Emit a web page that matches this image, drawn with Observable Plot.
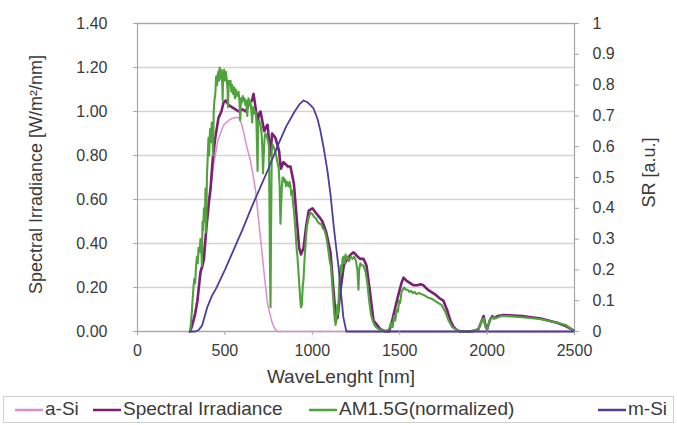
<!DOCTYPE html>
<html>
<head>
<meta charset="utf-8">
<script src="https://cdn.jsdelivr.net/npm/d3@7"></script>
<script src="https://cdn.jsdelivr.net/npm/@observablehq/plot@0.6"></script>
<style>
  html, body { margin: 0; padding: 0; background: #fff; }
  body { width: 677px; height: 425px; overflow: hidden; font-family: "Liberation Sans", Arial, sans-serif; }
  #legend { position: relative; width: 669px; height: 25px; margin-left: 3px; border: 1px solid #cfcfcf; font-size: 19px; color: #3a3a3a; }
  #legend .item { position: absolute; top: 1px; display: flex; align-items: center; white-space: nowrap; }
  #legend svg { margin-right: 2px; }
</style>
</head>
<body>
<div id="chart"></div>
<div id="legend"></div>
<script>
// ---- Data ----
const xTicks = [0, 500, 1000, 1500, 2000, 2500];
const yTicks = [0, 0.2, 0.4, 0.6, 0.8, 1.0, 1.2, 1.4];
const srTicks = [0, 0.1, 0.2, 0.3, 0.4, 0.5, 0.6, 0.7, 0.8, 0.9, 1];
const srLabels = ["0", "0.1", "0.2", "0.3", "0.4", "0.5", "0.6", "0.7", "0.8", "0.9", "1"];
const seriesNames = ["a-Si", "Spectral Irradiance", "AM1.5G(normalized)", "m-Si"];
const seriesColors = ["#dc8fcb", "#7c1f74", "#4fa23c", "#4b3f9c"];

// Spectral Irradiance [W/m2/nm]
const siWl = [300,310,330,343,360,372,380,395,410,418,430,445,463,480,492,505,520,540,560,580,600,620,640,655,664,675,687,695,704,718,725,735,744,760,770,789,810,820,835,860,875,895,910,925,935,950,965,980,1001,1020,1040,1058,1080,1104,1120,1135,1144,1160,1180,1200,1220,1236,1260,1275,1293,1310,1330,1350,1370,1390,1420,1440,1460,1490,1510,1522,1540,1560,1580,1600,1620,1636,1660,1700,1730,1750,1770,1790,1808,1830,1850,1900,1930,1950,1965,1980,1990,2000,2015,2030,2040,2060,2094,2150,2200,2250,2300,2350,2400,2450,2494];
const siVal = [0,0.02,0.08,0.14,0.27,0.30,0.33,0.48,0.60,0.65,0.78,0.88,0.97,1.00,1.04,1.05,1.03,1.02,1.01,1.00,1.01,1.00,1.04,1.05,1.08,1.02,0.95,0.99,1.00,0.94,0.91,0.93,0.94,0.80,0.90,0.88,0.82,0.74,0.77,0.75,0.75,0.67,0.52,0.38,0.35,0.38,0.48,0.55,0.56,0.54,0.52,0.50,0.45,0.36,0.20,0.06,0.06,0.18,0.30,0.33,0.35,0.36,0.34,0.33,0.33,0.30,0.18,0.05,0.03,0.01,0.00,0.00,0.06,0.16,0.22,0.245,0.23,0.22,0.21,0.21,0.215,0.21,0.19,0.17,0.15,0.14,0.10,0.05,0.02,0.005,0,0,0.005,0.01,0.04,0.07,0.03,0.01,0.05,0.07,0.06,0.07,0.075,0.073,0.07,0.065,0.06,0.05,0.04,0.025,0.005];

// AM1.5G (normalized)
const amWl = [300,305,310,315,320,325,330,335,340,345,349,355,360,365,368,372,376,380,385,389,393,397,402,406,410,415,420,425,429,432,436,440,445,450,455,458,462,466,470,475,480,485,487,490,495,500,505,510,515,518,522,527,532,537,542,547,552,557,562,567,572,578,583,588,592,597,602,607,612,617,622,628,632,635,640,645,650,656,660,665,670,675,680,687,690,695,700,705,710,715,718,722,727,732,737,742,748,752,758,761,764,768,773,778,783,788,793,798,803,808,813,818,822,826,830,835,840,845,850,855,860,865,870,875,880,885,890,895,900,905,910,915,920,925,930,935,940,945,950,955,960,965,970,975,980,990,1000,1010,1020,1030,1040,1050,1060,1070,1080,1090,1100,1108,1115,1122,1128,1133,1138,1143,1148,1153,1158,1163,1168,1173,1178,1185,1190,1195,1200,1210,1220,1230,1240,1250,1258,1264,1268,1275,1285,1293,1305,1315,1325,1335,1345,1355,1365,1380,1400,1420,1440,1450,1460,1468,1475,1482,1490,1497,1503,1510,1517,1525,1535,1545,1555,1565,1575,1585,1595,1610,1625,1640,1660,1680,1700,1720,1740,1760,1780,1800,1830,1860,1920,1950,1970,1980,1990,2000,2015,2030,2050,2080,2120,2200,2300,2400,2450,2480,2500];
const amVal = [0,0.03,0.08,0.14,0.20,0.24,0.22,0.30,0.34,0.31,0.38,0.36,0.42,0.40,0.30,0.50,0.46,0.56,0.50,0.65,0.45,0.70,0.80,0.88,0.80,0.92,0.86,0.95,0.95,0.80,1.00,1.05,1.08,1.16,1.12,1.16,1.18,1.14,1.20,1.15,1.19,1.12,1.05,1.17,1.19,1.14,1.18,1.15,1.10,1.02,1.14,1.12,1.14,1.09,1.12,1.08,1.11,1.06,1.10,1.07,1.08,1.09,1.05,0.96,1.06,1.04,1.07,1.05,1.06,1.03,1.05,0.98,1.04,1.06,1.03,1.05,1.02,0.95,1.02,1.01,0.99,1.00,0.97,0.73,0.94,0.96,0.95,0.93,0.90,0.82,0.72,0.80,0.88,0.90,0.89,0.88,0.86,0.84,0.30,0.11,0.45,0.82,0.85,0.84,0.83,0.82,0.80,0.78,0.76,0.74,0.66,0.49,0.58,0.66,0.70,0.70,0.68,0.69,0.66,0.68,0.67,0.66,0.68,0.66,0.62,0.64,0.58,0.55,0.50,0.44,0.38,0.34,0.28,0.22,0.16,0.11,0.12,0.20,0.24,0.32,0.38,0.44,0.48,0.50,0.52,0.54,0.535,0.52,0.515,0.50,0.49,0.49,0.47,0.46,0.43,0.38,0.32,0.29,0.20,0.12,0.06,0.03,0.05,0.12,0.08,0.20,0.26,0.30,0.27,0.33,0.34,0.31,0.35,0.33,0.34,0.32,0.34,0.33,0.34,0.32,0.28,0.19,0.28,0.31,0.30,0.30,0.27,0.22,0.14,0.08,0.05,0.03,0.02,0.01,0.005,0.003,0.01,0.04,0.02,0.07,0.05,0.10,0.09,0.14,0.13,0.18,0.19,0.20,0.19,0.19,0.18,0.185,0.175,0.18,0.17,0.175,0.17,0.165,0.155,0.15,0.14,0.13,0.12,0.09,0.05,0.02,0.005,0,0,0.01,0.05,0.06,0.02,0.01,0.05,0.065,0.06,0.07,0.07,0.065,0.057,0.04,0.03,0.012,0];

// a-Si spectral response [a.u.]
const aSiWl = [300,320,340,360,380,400,420,435,460,492,532,560,578,595,606,625,646,660,675,695,715,730,744,760,772,785,800,2500];
const aSiVal = [0,0.03,0.10,0.18,0.27,0.36,0.47,0.54,0.62,0.67,0.69,0.695,0.695,0.675,0.65,0.60,0.555,0.51,0.46,0.35,0.24,0.16,0.09,0.05,0.026,0.01,0,0];

// m-Si spectral response [a.u.]
const mSiWl = [300,330,350,370,385,400,425,450,500,550,600,650,700,750,800,850,900,930,950,970,990,1007,1030,1047,1067,1087,1105,1121,1135,1150,1165,1178,1195,2500];
const mSiVal = [0,0,0.005,0.02,0.05,0.08,0.115,0.14,0.20,0.265,0.33,0.40,0.465,0.53,0.60,0.665,0.715,0.74,0.75,0.745,0.735,0.724,0.69,0.65,0.59,0.52,0.44,0.35,0.28,0.21,0.12,0.045,0,0];

// ---- Build tables ----
const toRows = (wl, val) => wl.map((w, i) => ({w, v: val[i]}));
const siData = toRows(siWl, siVal);
const amData = toRows(amWl, amVal);
const aSiData = toRows(aSiWl, aSiVal);
const mSiData = toRows(mSiWl, mSiVal);

// SR axis (right) shares the frame: SR 1 <-> 1.4 on the left scale
const SRK = 1.4;
const srY = d => d.v * SRK;
const srTickPos = srTicks.map(t => t * SRK);

const font = "Liberation Sans, Arial, sans-serif";
const txt = "#3a3a3a";

const chart = Plot.plot({
  width: 677,
  height: 396,
  marginLeft: 137,
  marginRight: 103,
  marginTop: 23,
  marginBottom: 65,
  style: {fontFamily: font, fontSize: "16px", color: txt, background: "#fff"},
  x: {domain: [0, 2500]},
  y: {domain: [0, 1.4]},
  marks: [
    Plot.gridY(yTicks, {stroke: "#d4d4d4", strokeOpacity: 1, strokeWidth: 1.5}),
    Plot.frame({stroke: "#a6a6a6", strokeWidth: 1.2}),
    Plot.line(aSiData, {x: "w", y: srY, stroke: seriesColors[0], strokeWidth: 1.5}),
    Plot.line(siData, {x: "w", y: "v", stroke: seriesColors[1], strokeWidth: 2.6}),
    Plot.line(amData, {x: "w", y: "v", stroke: seriesColors[2], strokeWidth: 2.1}),
    Plot.line(mSiData, {x: "w", y: srY, stroke: seriesColors[3], strokeWidth: 1.8}),
    Plot.axisY(yTicks, {anchor: "left", tickSize: 4, tickPadding: 26, stroke: "#a6a6a6",
      tickFormat: d3.format(".2f"), fontSize: 16, fill: txt, label: null}),
    Plot.axisY(srTickPos, {anchor: "right", tickSize: 4, tickPadding: 14, stroke: "#a6a6a6",
      tickFormat: d => srLabels[srTickPos.findIndex(t => Math.abs(t - d) < 1e-9)],
      fontSize: 16, fill: txt, label: null}),
    Plot.axisX(xTicks, {anchor: "bottom", tickSize: 4, tickPadding: 9, stroke: "#a6a6a6",
      tickFormat: d3.format("d"), fontSize: 16, fill: txt, label: null}),
    // axis titles
    Plot.text(["Spectral Irradiance [W/m²/nm]"], {frameAnchor: "left", textAnchor: "middle", dx: -101, dy: -3, rotate: -90,
      fontSize: 18, fill: txt, text: d => d}),
    Plot.text(["SR [a.u.]"], {frameAnchor: "right", textAnchor: "middle", dx: 75, dy: -5, rotate: -90,
      fontSize: 18, fill: txt, text: d => d}),
    Plot.text(["WaveLenght [nm]"], {frameAnchor: "bottom", dy: 51, dx: -15,
      fontSize: 19, fill: txt, text: d => d})
  ]
});
document.getElementById("chart").appendChild(chart);

// ---- Legend ----
const legendX = [11, 89, 305, 594];
const legend = d3.select("#legend");
seriesNames.forEach((name, i) => {
  const item = legend.append("div").attr("class", "item").style("left", legendX[i] + "px");
  const s = item.append("svg").attr("width", 28).attr("height", 20);
  s.append("line").attr("x1", 0).attr("x2", 28).attr("y1", 11).attr("y2", 11)
    .attr("stroke", seriesColors[i]).attr("stroke-width", 2.5);
  item.append("span").text(name);
});
</script>
</body>
</html>
